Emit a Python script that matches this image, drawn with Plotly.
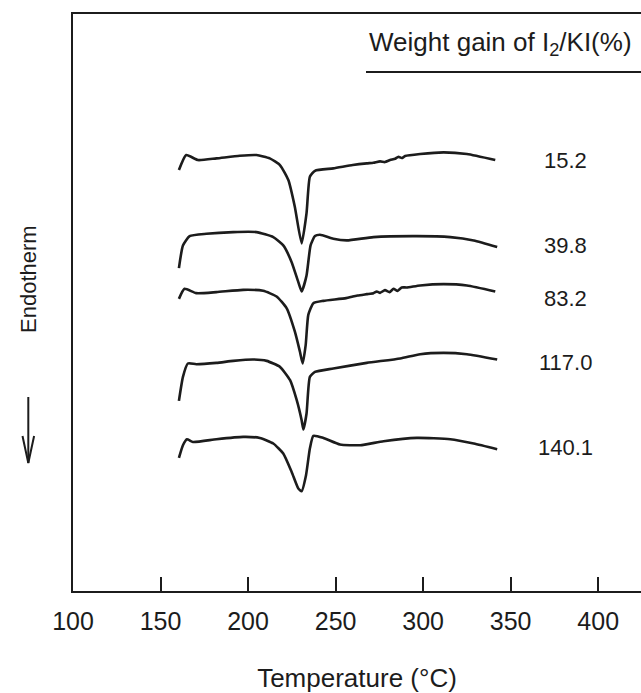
import plotly.graph_objects as go

# Weight gain labels (%) for each DSC curve
weight_gain = ["15.2", "39.8", "83.2", "117.0", "140.1"]

# Curve 1 (15.2 %)
t1 = [160.5, 164.7, 171.4, 181.9, 195.2, 204.8, 212.4, 218.2, 223.0, 226.7, 230.6, 233.4, 235.3, 238.2,
      248.7, 259.8, 267.8, 271.6, 275.4, 278.2, 281.1, 284.0, 285.9, 287.8, 289.7, 298.3, 311.7, 325.0, 341.2]
h1 = [42.0, 43.5, 43.0, 43.17, 43.43, 43.5, 43.17, 42.5, 41.0, 38.33, 34.67, 37.7, 41.33, 41.93,
      42.17, 42.5, 42.67, 42.73, 42.87, 42.8, 43.0, 43.13, 43.33, 43.2, 43.4, 43.6, 43.77, 43.6, 43.0]

# Curve 2 (39.8 %)
t2 = [160.5, 162.8, 166.6, 176.2, 191.5, 204.8, 214.4, 220.1, 224.9, 228.7, 230.6, 233.4, 235.7, 238.2,
      241.1, 248.7, 256.4, 271.6, 296.4, 315.5, 328.9, 342.3]
h2 = [32.2, 34.47, 35.4, 35.63, 35.8, 35.8, 35.3, 34.47, 32.8, 30.8, 29.87, 31.47, 34.47, 35.4,
      35.53, 35.13, 34.97, 35.3, 35.4, 35.3, 34.97, 34.3]

# Curve 3 (83.2 %)
t3 = [160.5, 163.7, 170.4, 181.9, 197.2, 208.6, 216.3, 222.0, 226.7, 229.6, 231.2, 232.9, 234.4, 237.3,
      243.0, 256.0, 259.8, 262.6, 267.8, 271.6, 273.5, 275.4, 278.2, 280.8, 283.1, 285.4, 287.8, 290.6,
      298.3, 311.7, 325.0, 341.2]
h3 = [29.13, 30.13, 29.7, 29.8, 30.03, 29.93, 29.37, 28.2, 25.87, 23.87, 22.67, 24.5, 27.53, 28.7,
      28.93, 29.2, 29.37, 29.47, 29.6, 29.7, 29.87, 29.73, 30.0, 29.8, 30.13, 29.93, 30.27, 30.27,
      30.47, 30.6, 30.47, 29.87]

# Curve 4 (117.0 %)
t4 = [160.5, 162.8, 165.6, 170.4, 181.9, 191.5, 202.9, 210.6, 218.2, 224.0, 227.8, 230.6, 231.6, 233.4,
      235.3, 238.2, 248.7, 267.8, 286.9, 298.3, 311.7, 325.0, 342.3]
h4 = [18.93, 21.33, 22.67, 22.6, 22.73, 22.93, 23.07, 22.93, 22.33, 21.0, 19.0, 17.0, 16.07, 17.67,
      21.33, 21.83, 22.17, 22.73, 23.17, 23.6, 23.73, 23.6, 23.07]

# Curve 5 (140.1 %)
t5 = [160.5, 162.8, 165.1, 168.5, 181.9, 197.2, 206.7, 214.4, 220.1, 224.9, 228.7, 230.6, 233.1, 235.3,
      237.3, 243.0, 252.5, 264.0, 277.4, 296.4, 315.5, 328.9, 342.3]
h5 = [13.23, 14.5, 15.1, 14.83, 15.1, 15.33, 15.23, 14.67, 13.67, 11.83, 10.17, 9.9, 11.5, 14.17,
      15.43, 15.23, 14.57, 14.5, 14.9, 15.23, 15.1, 14.67, 14.1]

# label positions (data units)
label_x = 381.5
label_y = [43.0, 34.5, 29.2, 22.8, 14.3]

x_ticks = [100, 150, 200, 250, 300, 350, 400]

FONT = "Liberation Sans, Arial, Helvetica, sans-serif"
INK = "#1c1c1c"

W, H = 641, 693
L, R, T, B = 73, 0, 14, 102
pw, ph = W - L - R, H - T - B


def px(xp):
    return (xp - L) / pw


def py(yp):
    return (H - B - yp) / ph


fig = go.Figure()
for t, h, name in zip([t1, t2, t3, t4, t5], [h1, h2, h3, h4, h5], weight_gain):
    fig.add_trace(go.Scatter(x=t, y=h, mode="lines", name=name,
                             line=dict(color=INK, width=2.6, shape="spline", smoothing=0.5),
                             showlegend=False, hoverinfo="skip"))

for name, y in zip(weight_gain, label_y):
    fig.add_annotation(x=label_x, y=y, xref="x", yref="y", text=name, showarrow=False,
                       font=dict(family=FONT, size=22, color=INK), xanchor="center", yanchor="middle")

# Header with underline
fig.add_annotation(x=px(634), y=py(43), xref="paper", yref="paper",
                   text="Weight gain of I<sub>2</sub>/KI(%)",
                   showarrow=False, font=dict(family=FONT, size=26, color=INK), xanchor="right", yanchor="middle")
fig.add_shape(type="line", xref="paper", yref="paper", x0=px(366), x1=px(641), y0=py(72), y1=py(72),
              line=dict(color=INK, width=2))

# Endotherm label and arrow
fig.add_annotation(x=px(28), y=py(279), xref="paper", yref="paper", text="Endotherm", textangle=-90,
                   showarrow=False, font=dict(family=FONT, size=22, color=INK), xanchor="center", yanchor="middle")
fig.add_shape(type="line", xref="paper", yref="paper", x0=px(28.3), x1=px(28.3), y0=py(397), y1=py(463),
              line=dict(color=INK, width=2))
fig.add_shape(type="path", xref="paper", yref="paper",
              path=f"M {px(22.5)},{py(436)} L {px(28.3)},{py(463)} L {px(34.1)},{py(436)}",
              line=dict(color=INK, width=2))

fig.update_layout(
    width=W, height=H,
    margin=dict(l=L, r=R, t=T, b=B, pad=0),
    paper_bgcolor="white", plot_bgcolor="white",
    font=dict(family=FONT, color=INK),
    xaxis=dict(range=[100, 100 + pw / 1.7507], tickvals=x_ticks, ticktext=[str(v) for v in x_ticks],
               ticks="inside", ticklen=14, tickwidth=2, tickcolor=INK,
               showline=True, linecolor=INK, linewidth=2, mirror=True,
               showgrid=False, zeroline=False, ticklabelstandoff=7,
               tickfont=dict(family=FONT, size=25, color=INK),
               title=dict(text="Temperature (°C)", font=dict(family=FONT, size=26, color=INK), standoff=36)),
    yaxis=dict(range=[-0.07, 57.6], showticklabels=False, ticks="", showgrid=False, zeroline=False,
               showline=True, linecolor=INK, linewidth=2, mirror=False),
)

fig.write_html("out.html")
